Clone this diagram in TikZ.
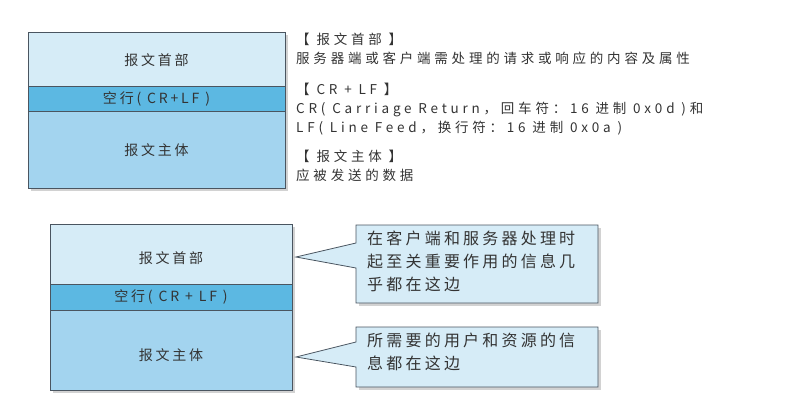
\documentclass[tikz,border=0pt]{standalone}
\usepackage{fontspec}
\setmainfont{Noto Sans CJK SC}
\newfontfamily\spA[LetterSpace=28]{Noto Sans CJK SC}
\newfontfamily\spB[LetterSpace=20]{Noto Sans CJK SC}
\newfontfamily\spC[LetterSpace=20]{Noto Sans CJK SC}
\begin{document}
\begin{tikzpicture}[x=1pt,y=-1pt,
  hdr/.style={fill=hdrc,draw=edge,line width=0.8pt},
  blk/.style={fill=blkc,draw=edge,line width=0.8pt},
  bdy/.style={fill=bdyc,draw=edge,line width=0.8pt},
  lbl/.style={font=\spC\fontsize{14}{16}\selectfont,text=txt},
  rt/.style={font=\spA\fontsize{13.5}{19}\selectfont,text=txt,anchor=north west,align=left,inner sep=0pt},
  ct/.style={font=\spB\fontsize{16}{23}\selectfont,text=txt,anchor=north west,align=left,inner sep=0pt},
  call/.style={fill=hdrc,draw=edge,line width=0.8pt}]
\definecolor{hdrc}{HTML}{D6ECF7}
\definecolor{blkc}{HTML}{5CB8E2}
\definecolor{bdyc}{HTML}{A3D4EF}
\definecolor{edge}{HTML}{4A5560}
\definecolor{txt}{HTML}{333333}
\useasboundingbox (0,0) rectangle (789,416);
% top box shadow
\fill[gray!35] (31,35) rectangle (288,191);
\draw[hdr] (28,32) rectangle (285,86);
\draw[blk] (28,86) rectangle (285,111);
\draw[bdy] (28,111) rectangle (285,188);
\node[lbl] (h1) at (156.5,60) {报文首部};
\node[lbl] (b1) at (156.5,99) {空行( CR+LF )};
\node[lbl] (m1) at (156.5,150) {报文主体};
\node[rt] (t1) at (296,33) {【 报文首部 】\\服务器端或客户端需处理的请求或响应的内容及属性};
\node[rt] (t2) at (296,83) {【 CR + LF 】\\CR( Carriage Return，回车符：16 进制 0x0d )和\\LF( Line Feed，换行符：16 进制 0x0a )};
\node[rt] (t3) at (296,150) {【 报文主体 】\\应被发送的数据};
% bottom box
\fill[gray!35] (53,227) rectangle (295,393);
\draw[hdr] (50,224) rectangle (292,284);
\draw[blk] (50,284) rectangle (292,310);
\draw[bdy] (50,310) rectangle (292,390);
\node[lbl] (h2) at (171,258) {报文首部};
\node[lbl] (b2) at (171,297) {空行( CR + LF )};
\node[lbl] (m2) at (171,355) {报文主体};
% callouts
\fill[gray!35] (359,228) rectangle (601,306);
\draw[call] (356,225) -- (598,225) -- (598,303) -- (356,303) -- (356,268) -- (296,257) -- (356,243) -- cycle;
\node[ct] (c1) at (367,231) {在客户端和服务器处理时\\起至关重要作用的信息几\\乎都在这边};
\fill[gray!35] (359,330) rectangle (601,390);
\draw[call] (356,327) -- (598,327) -- (598,387) -- (356,387) -- (356,367) -- (296,357) -- (356,342) -- cycle;
\node[ct] (c2) at (367,333) {所需要的用户和资源的信\\息都在这边};
\end{tikzpicture}
\end{document}
